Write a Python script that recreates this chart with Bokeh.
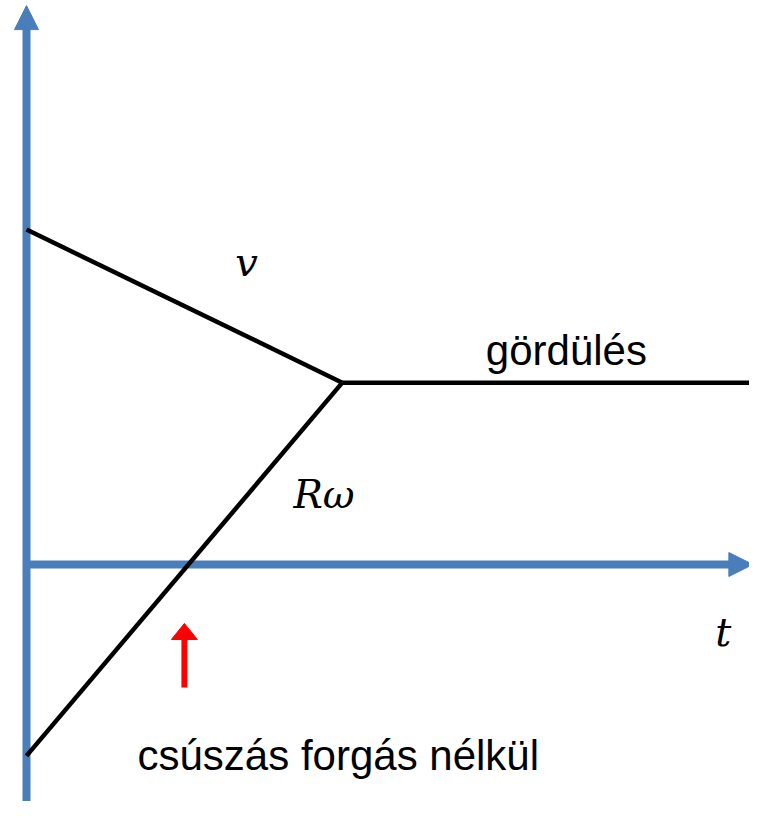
from bokeh.plotting import figure
from bokeh.models import Range1d
from bokeh.core.properties import value
from bokeh.embed import file_html
from bokeh.resources import INLINE

# ---- data (time in arbitrary units, speed in arbitrary units) ----
t_slip = [0.0, 3.3]          # slipping phase: start -> rolling begins
v_slip = [3.5, 1.9]          # translational speed v
rw_slip = [-2.0, 1.9]        # R*omega
t_roll = [3.3, 7.58]         # rolling phase
v_roll = [1.9, 1.9]
t_mark = 1.65                # "slip without rotation" marker time
axis_t_end = 7.59            # end of the time axis arrow
axis_v_end = 5.84            # end of the speed axis arrow

axis_color = "#4A7EBB"
PX = 95.7                    # pixels per data unit (both axes)
W, H = 749, 801
x0_px, y0_px = 26, 564       # origin location inside the figure (px)

xr = Range1d(-x0_px / PX, (W - x0_px) / PX)
yr = Range1d(-(H - y0_px) / PX, y0_px / PX)

p = figure(width=W, height=H, x_range=xr, y_range=yr,
           output_backend="svg", toolbar_location=None, min_border=0)
p.axis.visible = False
p.grid.visible = False
p.outline_line_color = None
p.background_fill_color = "white"
p.border_fill_color = "white"

u = 1.0 / PX  # one pixel in data units

# ---- axes as thick arrows ----
# vertical axis
p.segment(x0=[0], y0=[yr.start - 1], x1=[0], y1=[axis_v_end - 23 * u],
          line_color=axis_color, line_width=8)
p.patches(xs=[[-12 * u, 12 * u, 0]],
          ys=[[axis_v_end - 24 * u, axis_v_end - 24 * u, axis_v_end]],
          fill_color=axis_color, line_color=axis_color, line_width=1)
# horizontal axis
p.segment(x0=[0], y0=[0], x1=[axis_t_end - 23 * u], y1=[0],
          line_color=axis_color, line_width=8)
p.patches(xs=[[axis_t_end - 24 * u, axis_t_end - 24 * u, axis_t_end]],
          ys=[[-12 * u, 12 * u, 0]],
          fill_color=axis_color, line_color=axis_color, line_width=1)

# ---- curves ----
p.line(t_slip, v_slip, line_color="black", line_width=4.5)
p.line(t_slip, rw_slip, line_color="black", line_width=4.5)
p.line(t_roll, v_roll, line_color="black", line_width=4.5)

# ---- red marker arrow ----
mark_base = -1.285
p.segment(x0=[t_mark], y0=[mark_base], x1=[t_mark], y1=[mark_base + 50 * u],
          line_color="red", line_width=6)
p.patches(xs=[[t_mark - 13 * u, t_mark + 13 * u, t_mark]],
          ys=[[mark_base + 48 * u, mark_base + 48 * u, mark_base + 64 * u]],
          fill_color="red", line_color="red", line_width=1)

# ---- labels ----
sans = value("Liberation Sans")
serif = value("DejaVu Serif")

p.text(x=[2.30], y=[3.16], text=["v"], text_font=serif, text_font_style="italic",
       text_font_size="40px", text_align="center", text_baseline="middle",
       text_color="black")
p.text(x=[2.79], y=[0.73], text=["Rω"], text_font=serif, text_font_style="italic",
       text_font_size="39px", text_align="left", text_baseline="alphabetic",
       text_color="black")
p.text(x=[7.28], y=[-0.71], text=["t"], text_font=serif, text_font_style="italic",
       text_font_size="40px", text_align="center", text_baseline="alphabetic",
       text_color="black")
p.text(x=[4.80], y=[2.24], text=["gördülés"], text_font=sans,
       text_font_size="42px", text_align="left", text_baseline="alphabetic",
       text_color="black")
p.text(x=[1.16], y=[-2.0], text=["csúszás forgás nélkül"], text_font=sans,
       text_font_size="42px", text_align="left", text_baseline="alphabetic",
       text_color="black")

open("out.html", "w").write(file_html(p, INLINE))
